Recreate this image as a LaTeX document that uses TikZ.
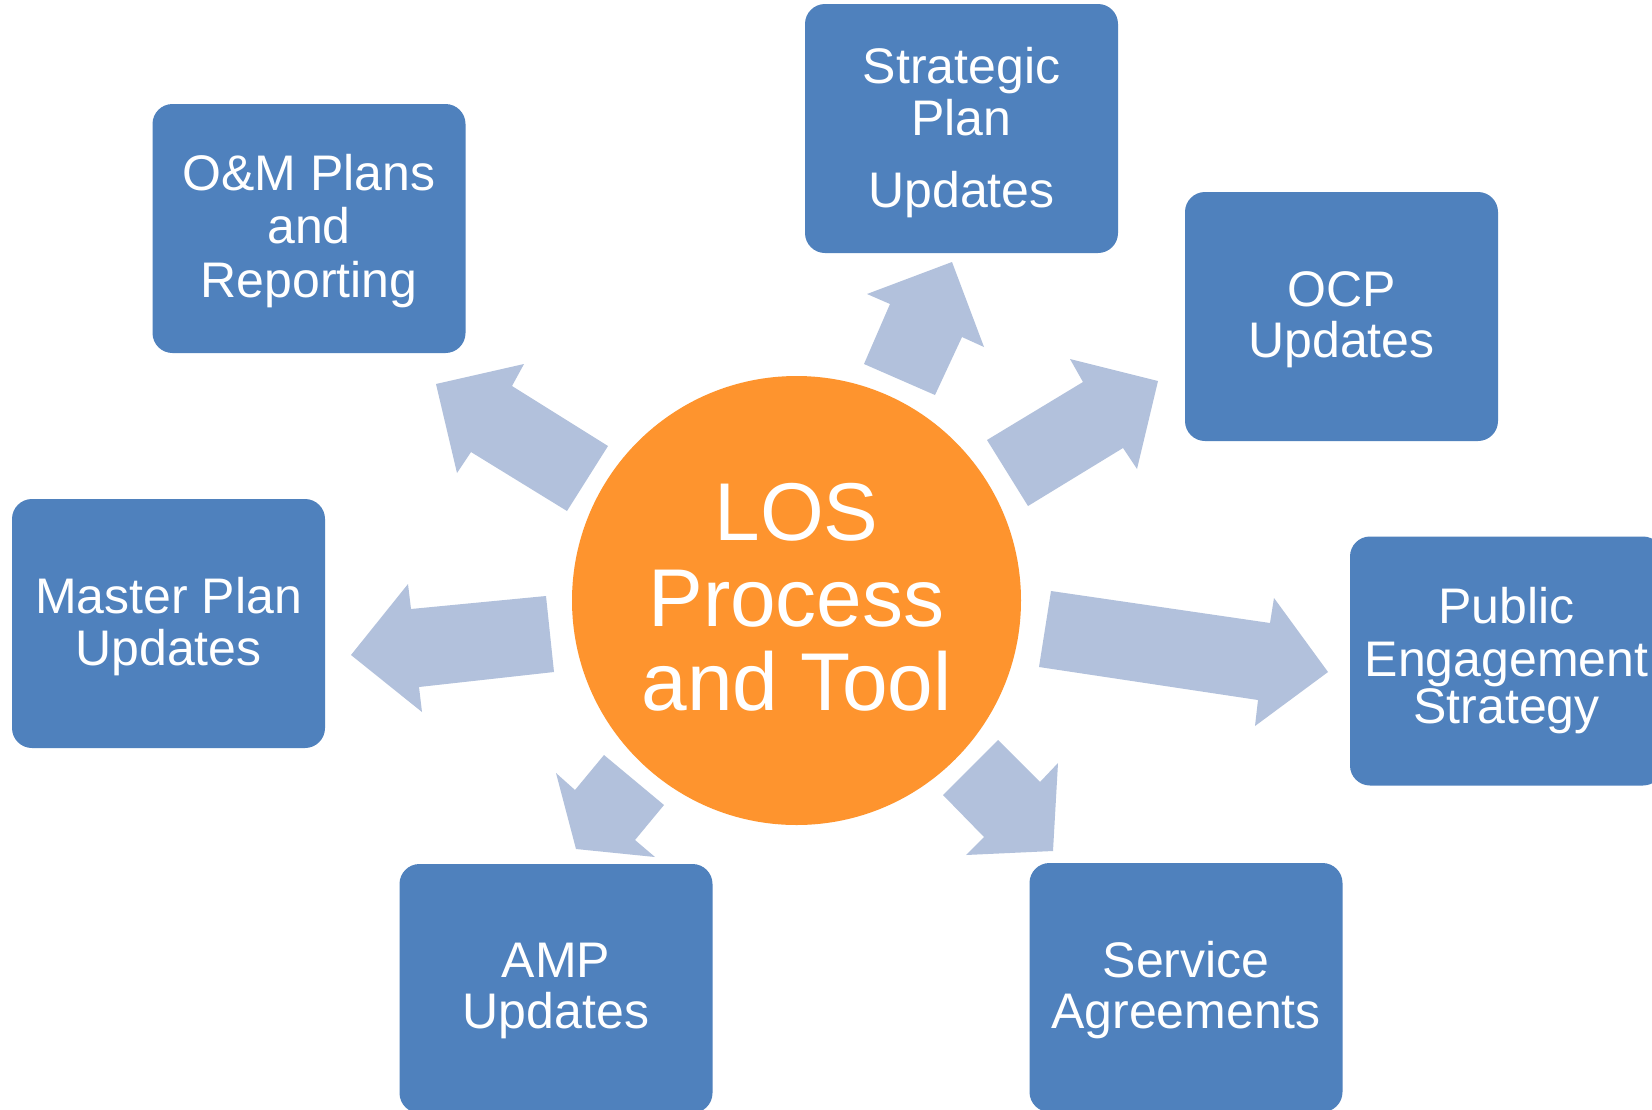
\documentclass[tikz,border=0pt]{standalone}
\usepackage{fontspec}
\setmainfont{Liberation Sans}
\definecolor{boxblue}{RGB}{79,129,189}
\definecolor{arrowblue}{RGB}{178,193,220}
\definecolor{losorange}{RGB}{254,148,46}
\begin{document}
\begin{tikzpicture}[x=1pt,y=-1pt,
  box/.style={fill=boxblue,rounded corners=20pt,minimum width=313pt,minimum height=249pt,inner sep=0pt,draw=none},
  lbl/.style={text=white,anchor=base,inner sep=0pt,font=\fontsize{50}{60}\selectfont},
  big/.style={text=white,anchor=base,inner sep=0pt,font=\fontsize{82}{92}\selectfont},
  blockarrow/.style={fill=arrowblue,draw=none}]
\useasboundingbox (0,0) rectangle (1652,1109);
\fill[white] (0,0) rectangle (1652,1109);

% block arrows
\fill[blockarrow] (952,262) -- (984,347) -- (962,337) -- (935,395) -- (864,364) -- (890,304) -- (867,294) -- cycle;
\fill[blockarrow] (436,384) -- (524,364) -- (512,386) -- (608,446) -- (567,511) -- (471,452) -- (457,473) -- cycle;
\fill[blockarrow] (351,655) -- (408,584) -- (411,609) -- (546,596) -- (554,672) -- (419,687) -- (422,712) -- cycle;
\fill[blockarrow] (1158,381) -- (1137,469) -- (1123,448) -- (1028,506) -- (987,440) -- (1083,382) -- (1070,359) -- cycle;
\fill[blockarrow] (1328,672) -- (1255,726) -- (1258,700) -- (1039,667) -- (1051,591) -- (1270,623) -- (1274,598) -- cycle;
\fill[blockarrow] (576,849) -- (556,773) -- (575,790) -- (604,755) -- (664,805) -- (635,840) -- (655,857) -- cycle;
\fill[blockarrow] (1053,851) -- (966,855) -- (984,837) -- (943,795) -- (998,740) -- (1040,782) -- (1058,763) -- cycle;

% centre circle
\node[circle,fill=losorange,minimum size=449pt,inner sep=0pt] (los) at (796.5,600.5) {};
\node[big] (los1) at (796.5,540) {LOS};
\node[big] (los2) at (796.5,626) {Process};
\node[big] (los3) at (796.5,710) {and Tool};

% boxes
\node[box] (strat) at (961.5,128.5) {};
\node[lbl] (strat1) at (961.5,83) {Strategic};
\node[lbl] (strat2) at (961.5,135) {Plan};
\node[lbl] (strat3) at (961.5,207) {Updates};

\node[box] (om) at (309,228.5) {};
\node[lbl] (om1) at (309,190) {O\&M Plans};
\node[lbl] (om2) at (309,243) {and};
\node[lbl] (om3) at (309,297) {Reporting};

\node[box] (ocp) at (1341.5,316.5) {};
\node[lbl] (ocp1) at (1341.5,306) {OCP};
\node[lbl] (ocp2) at (1341.5,357) {Updates};

\node[box] (pub) at (1506.5,661) {};
\node[lbl] (pub1) at (1506.5,623) {Public};
\node[lbl] (pub2) at (1506.5,676) {Engagement};
\node[lbl] (pub3) at (1506.5,723) {Strategy};

\node[box] (mast) at (168.5,623.5) {};
\node[lbl] (mast1) at (168.5,613) {Master Plan};
\node[lbl] (mast2) at (168.5,665) {Updates};

\node[box] (amp) at (556,988.5) {};
\node[lbl] (amp1) at (556,977) {AMP};
\node[lbl] (amp2) at (556,1028) {Updates};

\node[box] (serv) at (1186,987.5) {};
\node[lbl] (serv1) at (1186,977) {Service};
\node[lbl] (serv2) at (1186,1028) {Agreements};
\end{tikzpicture}
\end{document}
